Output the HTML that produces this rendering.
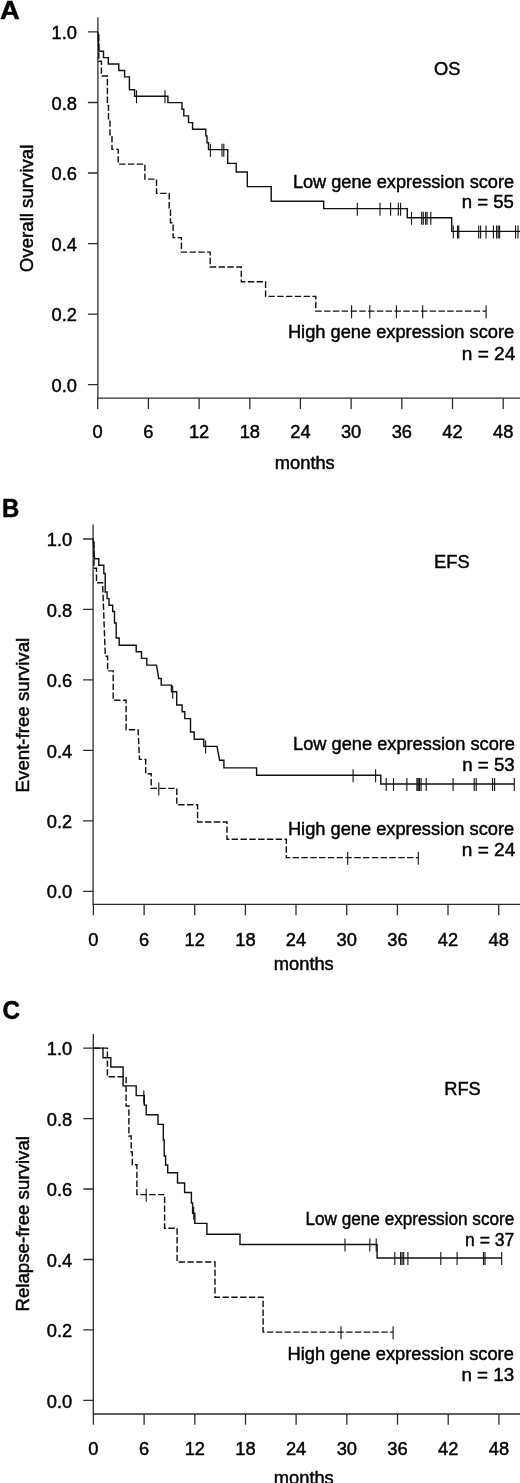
<!DOCTYPE html>
<html lang="en"><head><meta charset="utf-8"><title>Kaplan-Meier survival curves</title>
<style>
html,body{margin:0;padding:0;background:#fff}
svg{display:block}
text{font-family:"Liberation Sans",Arial,Helvetica,sans-serif;font-size:18.3px;fill:#000;stroke:#000;stroke-width:0.45px}
text.b{font-weight:bold;font-size:25.6px;stroke-width:0.5px}
.ax{fill:none;stroke:#2c2c2c;stroke-width:1.3}
.c{fill:none;stroke:#111;stroke-width:1.42;stroke-linejoin:miter}
.t{fill:none;stroke:#151515;stroke-width:1.12}
.d{stroke-dasharray:6.4 2.4}
</style></head><body>
<svg width="520" height="1483" viewBox="0 0 520 1483">
<rect width="520" height="1483" fill="#fff"/>
<g>
<path class="ax" d="M97.9,17.2V398.1H520"/>
<path class="ax" d="M87.9,31.9H97.9M87.9,102.5H97.9M87.9,173.0H97.9M87.9,243.6H97.9M87.9,314.1H97.9M87.9,384.7H97.9M97.7,398.1v10.8M148.4,398.1v10.8M199.1,398.1v10.8M249.8,398.1v10.8M300.4,398.1v10.8M351.1,398.1v10.8M401.8,398.1v10.8M452.5,398.1v10.8M503.2,398.1v10.8"/>
<text x="76.9" y="39.0" text-anchor="end">1.0</text>
<text x="76.9" y="109.6" text-anchor="end">0.8</text>
<text x="76.9" y="180.1" text-anchor="end">0.6</text>
<text x="76.9" y="250.7" text-anchor="end">0.4</text>
<text x="76.9" y="321.2" text-anchor="end">0.2</text>
<text x="76.9" y="391.8" text-anchor="end">0.0</text>
<text x="97.7" y="438.4" text-anchor="middle">0</text>
<text x="148.4" y="438.4" text-anchor="middle">6</text>
<text x="199.1" y="438.4" text-anchor="middle">12</text>
<text x="249.8" y="438.4" text-anchor="middle">18</text>
<text x="300.4" y="438.4" text-anchor="middle">24</text>
<text x="351.1" y="438.4" text-anchor="middle">30</text>
<text x="401.8" y="438.4" text-anchor="middle">36</text>
<text x="452.5" y="438.4" text-anchor="middle">42</text>
<text x="503.2" y="438.4" text-anchor="middle">48</text>
<text x="304.8" y="468.7" text-anchor="middle">months</text>
<text transform="translate(32.8,208.4) rotate(-90)" text-anchor="middle" textLength="127.6" lengthAdjust="spacingAndGlyphs">Overall survival</text>
<text x="447.3" y="75.1" text-anchor="middle">OS</text>
<text x="514.1" y="187.7" text-anchor="end" textLength="221.2" lengthAdjust="spacingAndGlyphs">Low gene expression score</text>
<text x="513.9" y="208.3" text-anchor="end" textLength="52.2" lengthAdjust="spacingAndGlyphs">n = 55</text>
<text x="514.2" y="338" text-anchor="end" textLength="226.3" lengthAdjust="spacingAndGlyphs">High gene expression score</text>
<text x="515.3" y="359.8" text-anchor="end" textLength="53.5" lengthAdjust="spacingAndGlyphs">n = 24</text>
<text class="b" transform="translate(-0.1,18.5) scale(1.067,1)">A</text>
<path class="c" d="M97.9,31.9 L99.0,51.2 L103.5,51.2 L103.5,57.6 L108.3,57.6 L108.3,64.0 L118.8,64.0 L118.8,70.5 L124.6,70.5 L124.6,76.9 L129.4,76.9 L129.4,89.8 L134.6,89.8 L134.6,96.2 L167.9,96.2 L167.9,102.6 L182.0,102.6 L182.0,109.2 L183.8,109.2 L183.8,115.9 L188.5,115.9 L188.5,122.6 L192.6,122.6 L192.6,129.3 L205.8,129.3 L205.8,135.9 L207.0,135.9 L207.0,142.7 L208.5,142.7 L208.5,149.6 L227.7,149.6 L227.7,163.4 L236.2,163.4 L236.2,172.0 L247.3,172.0 L247.3,186.6 L271.2,186.6 L271.2,201.2 L323.7,201.2 L323.7,208.6 L407.3,208.6 L407.3,217.7 L451.7,217.7 L451.7,231.4 L520.0,231.4"/>
<path class="t" d="M136.5,90.3V103.3M165.0,90.3V103.3M210.4,143.7V156.7M222.0,143.7V156.7M223.8,143.7V156.7M357.3,202.7V215.7M380.0,202.7V215.7M390.6,202.7V215.7M398.3,202.7V215.7M400.6,202.7V215.7M411.5,211.8V224.8M421.7,211.8V224.8M423.3,211.8V224.8M425.6,211.8V224.8M427.1,211.8V224.8M430.8,211.8V224.8M453.3,225.5V238.5M457.5,225.5V238.5M458.8,225.5V238.5M478.7,225.5V238.5M480.6,225.5V238.5M486.0,225.5V238.5M493.4,225.5V238.5M496.6,225.5V238.5M498.2,225.5V238.5M499.6,225.5V238.5M515.6,225.5V238.5M518.0,225.5V238.5"/>
<path class="c d" d="M98.6,35.0 L98.8,35.0 L98.8,61.3 L101.4,61.3 L101.4,76.0 L107.4,76.0 L107.4,105.4 L108.5,105.4 L108.5,120.0 L110.0,120.0 L110.0,134.7 L112.0,134.7 L112.0,149.4 L118.2,149.4 L118.2,164.1 L144.9,164.1 L144.9,179.1 L156.5,179.1 L156.5,193.4 L169.2,193.4 L169.2,208.1 L170.5,208.1 L170.5,222.8 L173.1,222.8 L173.1,237.6 L181.4,237.6 L181.4,252.1 L210.2,252.1 L210.2,267.0 L241.3,267.0 L241.3,281.8 L265.6,281.8 L265.6,296.4 L315.8,296.4 L315.8,311.1 L486.1,311.1"/>
<path class="t" d="M351.6,305.2V318.2M369.8,305.2V318.2M396.4,305.2V318.2M422.7,305.2V318.2M486.1,305.2V318.2"/>
</g>
<g>
<path class="ax" d="M93.1,524.6V904.4H520"/>
<path class="ax" d="M83.1,539.0H93.1M83.1,609.4H93.1M83.1,679.9H93.1M83.1,750.4H93.1M83.1,820.8H93.1M83.1,891.3H93.1M93.4,904.4v10.8M144.1,904.4v10.8M194.7,904.4v10.8M245.4,904.4v10.8M296.0,904.4v10.8M346.7,904.4v10.8M397.4,904.4v10.8M448.0,904.4v10.8M498.7,904.4v10.8"/>
<text x="72.2" y="546.1" text-anchor="end">1.0</text>
<text x="72.2" y="616.5" text-anchor="end">0.8</text>
<text x="72.2" y="687.0" text-anchor="end">0.6</text>
<text x="72.2" y="757.5" text-anchor="end">0.4</text>
<text x="72.2" y="827.9" text-anchor="end">0.2</text>
<text x="72.2" y="898.4" text-anchor="end">0.0</text>
<text x="93.4" y="945.8" text-anchor="middle">0</text>
<text x="144.1" y="945.8" text-anchor="middle">6</text>
<text x="194.7" y="945.8" text-anchor="middle">12</text>
<text x="245.4" y="945.8" text-anchor="middle">18</text>
<text x="296.0" y="945.8" text-anchor="middle">24</text>
<text x="346.7" y="945.8" text-anchor="middle">30</text>
<text x="397.4" y="945.8" text-anchor="middle">36</text>
<text x="448.0" y="945.8" text-anchor="middle">42</text>
<text x="498.7" y="945.8" text-anchor="middle">48</text>
<text x="303.8" y="970" text-anchor="middle">months</text>
<text transform="translate(28.7,715.1) rotate(-90)" text-anchor="middle" textLength="154.6" lengthAdjust="spacingAndGlyphs">Event-free survival</text>
<text x="451.9" y="567.7" text-anchor="middle">EFS</text>
<text x="515" y="750.2" text-anchor="end" textLength="222" lengthAdjust="spacingAndGlyphs">Low gene expression score</text>
<text x="514.8" y="771.2" text-anchor="end" textLength="52.6" lengthAdjust="spacingAndGlyphs">n = 53</text>
<text x="514.2" y="834.6" text-anchor="end" textLength="226.3" lengthAdjust="spacingAndGlyphs">High gene expression score</text>
<text x="515.3" y="855.7" text-anchor="end" textLength="53.5" lengthAdjust="spacingAndGlyphs">n = 24</text>
<text class="b" transform="translate(1.96,517.2) scale(0.9375,1)">B</text>
<path class="c" d="M93.1,538.7 L94.6,558.7 L98.8,558.7 L98.8,565.3 L103.8,565.3 L103.8,573.5 L105.2,573.5 L105.2,592.0 L107.1,592.0 L107.1,598.6 L109.0,598.6 L109.0,605.2 L112.7,605.2 L112.7,611.5 L114.5,611.5 L114.5,623.0 L116.2,623.0 L116.2,638.0 L119.2,638.0 L119.2,645.2 L136.2,645.2 L136.2,651.8 L141.5,651.8 L141.5,658.4 L146.8,658.4 L146.8,665.1 L156.5,665.1 L158.8,678.5 L161.2,678.5 L161.2,685.1 L171.5,685.1 L171.5,691.7 L176.7,691.7 L176.7,705.0 L182.1,705.0 L182.1,711.8 L184.8,711.8 L184.8,718.6 L190.5,718.6 L190.5,732.0 L194.2,732.0 L194.2,739.3 L203.8,739.3 L203.8,746.4 L217.0,746.4 L219.6,760.2 L223.9,760.2 L223.9,767.9 L256.6,767.9 L256.6,775.2 L380.8,775.2 L380.8,784.0 L514.3,784.0"/>
<path class="t" d="M172.7,685.8V698.8M205.6,740.5V753.5M353.1,769.3V782.3M375.6,769.3V782.3M386.2,778.1V791.1M393.5,778.1V791.1M406.9,778.1V791.1M416.9,778.1V791.1M418.2,778.1V791.1M419.5,778.1V791.1M421.1,778.1V791.1M426.2,778.1V791.1M453.1,778.1V791.1M474.2,778.1V791.1M476.2,778.1V791.1M492.6,778.1V791.1M494.6,778.1V791.1M514.3,778.1V791.1"/>
<path class="c d" d="M93.8,542.0 L94.0,542.0 L94.0,568.2 L96.5,568.2 L96.5,582.8 L102.6,582.8 L105.3,656.2 L107.6,656.2 L107.6,670.9 L113.2,670.9 L113.2,700.3 L126.1,700.3 L126.1,729.7 L138.1,729.7 L139.5,759.4 L145.7,759.4 L145.7,773.8 L151.2,773.8 L151.2,788.4 L176.8,788.4 L176.8,804.8 L197.6,804.8 L197.6,822.0 L227.0,822.0 L227.0,839.3 L286.3,839.3 L286.3,857.6 L418.3,857.6"/>
<path class="t" d="M158.8,782.5V795.5M347.7,851.7V864.7M418.3,851.7V864.7"/>
</g>
<g>
<path class="ax" d="M93.3,1034.1V1414H520"/>
<path class="ax" d="M83.3,1048.1H93.3M83.3,1118.6H93.3M83.3,1189.0H93.3M83.3,1259.5H93.3M83.3,1329.9H93.3M83.3,1400.4H93.3M93.4,1414v10.8M144.1,1414v10.8M194.8,1414v10.8M245.5,1414v10.8M296.1,1414v10.8M346.8,1414v10.8M397.5,1414v10.8M448.2,1414v10.8M498.9,1414v10.8"/>
<text x="72.2" y="1055.2" text-anchor="end">1.0</text>
<text x="72.2" y="1125.7" text-anchor="end">0.8</text>
<text x="72.2" y="1196.1" text-anchor="end">0.6</text>
<text x="72.2" y="1266.6" text-anchor="end">0.4</text>
<text x="72.2" y="1337.0" text-anchor="end">0.2</text>
<text x="72.2" y="1407.5" text-anchor="end">0.0</text>
<text x="93.4" y="1455" text-anchor="middle">0</text>
<text x="144.1" y="1455" text-anchor="middle">6</text>
<text x="194.8" y="1455" text-anchor="middle">12</text>
<text x="245.5" y="1455" text-anchor="middle">18</text>
<text x="296.1" y="1455" text-anchor="middle">24</text>
<text x="346.8" y="1455" text-anchor="middle">30</text>
<text x="397.5" y="1455" text-anchor="middle">36</text>
<text x="448.2" y="1455" text-anchor="middle">42</text>
<text x="498.9" y="1455" text-anchor="middle">48</text>
<text x="303.8" y="1484.3" text-anchor="middle">months</text>
<text transform="translate(29,1223.8) rotate(-90)" text-anchor="middle" textLength="175.6" lengthAdjust="spacingAndGlyphs">Relapse-free survival</text>
<text x="462.5" y="1095.1" text-anchor="middle">RFS</text>
<text x="514.3" y="1224.8" text-anchor="end" textLength="208.8" lengthAdjust="spacingAndGlyphs">Low gene expression score</text>
<text x="514.3" y="1246.4" text-anchor="end" textLength="49.3" lengthAdjust="spacingAndGlyphs">n = 37</text>
<text x="513.8" y="1359.5" text-anchor="end" textLength="226.3" lengthAdjust="spacingAndGlyphs">High gene expression score</text>
<text x="514.2" y="1380.6" text-anchor="end" textLength="52.8" lengthAdjust="spacingAndGlyphs">n = 13</text>
<text class="b" transform="translate(2.53,1019.3) scale(0.947,1)">C</text>
<path class="c" d="M93.3,1048.1 L103.0,1048.1 L103.0,1057.7 L110.8,1057.7 L110.8,1067.0 L123.1,1067.0 L123.1,1085.9 L136.2,1085.9 L136.2,1095.6 L144.3,1095.6 L144.3,1105.1 L146.2,1105.1 L146.2,1114.7 L158.0,1114.7 L158.0,1124.4 L163.3,1124.4 L163.3,1140.0 L164.2,1140.0 L164.2,1156.0 L165.6,1156.0 L165.6,1165.0 L167.7,1165.0 L167.7,1172.8 L177.5,1172.8 L177.5,1183.0 L184.6,1183.0 L184.6,1192.5 L191.4,1192.5 L191.4,1203.0 L192.6,1203.0 L192.6,1213.2 L194.8,1213.2 L194.8,1223.4 L206.9,1223.4 L206.9,1234.2 L240.0,1234.2 L240.0,1244.5 L377.1,1244.5 L377.1,1258.0 L501.7,1258.0"/>
<path class="t" d="M143.8,1090.6V1103.6M193.7,1206.7V1219.7M345.0,1238.6V1251.6M369.8,1238.6V1251.6M376.2,1238.6V1251.6M394.8,1252.1V1265.1M400.6,1252.1V1265.1M402.1,1252.1V1265.1M403.7,1252.1V1265.1M407.9,1252.1V1265.1M440.8,1252.1V1265.1M457.1,1252.1V1265.1M483.5,1252.1V1265.1M485.0,1252.1V1265.1M501.7,1252.1V1265.1"/>
<path class="c d" d="M93.3,1048.1 L107.4,1048.1 L107.4,1076.8 L126.1,1076.8 L126.1,1106.0 L128.9,1106.0 L128.9,1136.0 L131.2,1136.0 L131.2,1152.0 L132.3,1152.0 L132.3,1164.8 L136.9,1164.8 L136.9,1194.6 L164.6,1194.6 L164.6,1228.2 L177.1,1228.2 L177.1,1262.0 L215.0,1262.0 L215.0,1297.3 L263.1,1297.3 L263.1,1332.1 L393.1,1332.1"/>
<path class="t" d="M146.2,1188.7V1201.7M341.0,1326.2V1339.2M393.1,1326.2V1339.2"/>
</g>
</svg>
</body></html>
